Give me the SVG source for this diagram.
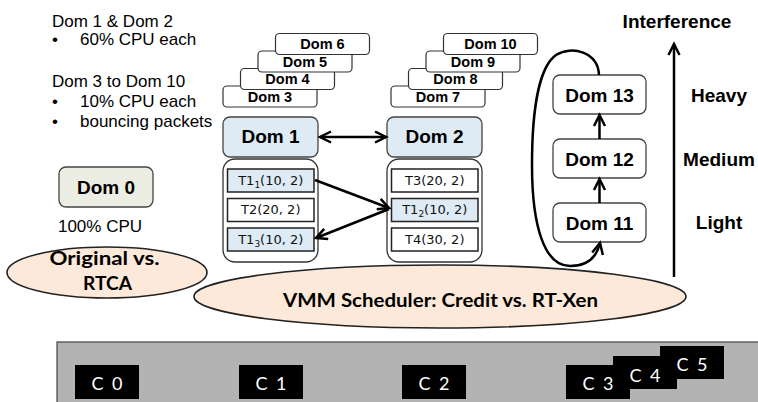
<svg xmlns="http://www.w3.org/2000/svg" width="758" height="402" viewBox="0 0 758 402">
<style>
.body{font-family:"Liberation Sans",Arial,sans-serif;font-size:17px;fill:#000}
.stk rect{fill:#fff;stroke:#333;stroke-width:1.2}
.stk text{font-family:"Liberation Sans",Arial,sans-serif;font-size:14.5px;font-weight:bold;text-anchor:middle}
.dom rect{stroke:#444;stroke-width:1.3}
.dom text{font-family:"Liberation Sans",Arial,sans-serif;font-size:19px;font-weight:bold;text-anchor:middle}
.blue{fill:#deebf5}
.cont{fill:#fff;stroke:#333;stroke-width:1.3}
.task{stroke:#222;stroke-width:1.5}
.ttxt{font-family:"DejaVu Sans",Verdana,sans-serif;font-size:13px;text-anchor:middle;fill:#111}
.ell{fill:#fde9d9;stroke:#222;stroke-width:1.6}
.etxt{font-family:Lato,"Open Sans",sans-serif;font-weight:bold;font-size:18px;text-anchor:middle}
.core rect{fill:#000}
.core text{font-family:Lato,"Open Sans",sans-serif;font-size:18px;fill:#fff;text-anchor:middle;letter-spacing:2px}
.lbl{font-family:"Liberation Sans",Arial,sans-serif;font-size:19px;font-weight:bold;text-anchor:middle}
.conn path,.conn line{fill:none;stroke:#000;stroke-width:2.5}
</style>
<defs>
<marker id="ah" markerUnits="userSpaceOnUse" markerWidth="16" markerHeight="16" refX="13" refY="7" orient="auto-start-reverse" viewBox="0 0 16 14">
<path d="M2,1.5 L13,7 L2,12.5" fill="none" stroke="#000" stroke-width="2.5"/>
</marker>
</defs>

<!-- left description -->
<g id="desc" class="body">
<text x="52" y="26.5">Dom 1 &amp; Dom 2</text>
<text x="52" y="45">•</text><text x="80" y="45">60% CPU each</text>
<text x="52" y="86.7">Dom 3 to Dom 10</text>
<text x="52" y="106.7">•</text><text x="80" y="106.7">10% CPU each</text>
<text x="52" y="126.7">•</text><text x="80" y="126.7">bouncing packets</text>
</g>

<!-- stacks -->
<g id="dom3" class="stk"><rect x="223" y="86" width="94" height="21" rx="4"/><text x="270" y="101.5">Dom 3</text></g>
<g id="dom4" class="stk"><rect x="240.5" y="68.5" width="94" height="21" rx="4"/><text x="287.5" y="84">Dom 4</text></g>
<g id="dom5" class="stk"><rect x="258" y="51" width="94" height="21" rx="4"/><text x="305" y="66.5">Dom 5</text></g>
<g id="dom6" class="stk"><rect x="275.5" y="33.5" width="94" height="21" rx="4"/><text x="322.5" y="49">Dom 6</text></g>
<g id="dom7" class="stk"><rect x="391" y="86" width="94" height="21" rx="4"/><text x="438" y="101.5">Dom 7</text></g>
<g id="dom8" class="stk"><rect x="408.5" y="68.5" width="94" height="21" rx="4"/><text x="455.5" y="84">Dom 8</text></g>
<g id="dom9" class="stk"><rect x="426" y="51" width="94" height="21" rx="4"/><text x="473" y="66.5">Dom 9</text></g>
<g id="dom10" class="stk"><rect x="443.5" y="33.5" width="94" height="21" rx="4"/><text x="490.5" y="49">Dom 10</text></g>

<!-- Dom 1 / Dom 2 -->
<g id="dom1" class="dom"><rect class="blue" x="223" y="117" width="95" height="40" rx="7"/><text x="270.5" y="143">Dom 1</text></g>
<g id="dom2" class="dom"><rect class="blue" x="387" y="117" width="95" height="40" rx="7"/><text x="434.5" y="143">Dom 2</text></g>

<g id="tasks1">
<rect class="cont" x="223" y="159" width="95" height="103" rx="12"/>
<rect class="task blue" x="227.5" y="169" width="86.5" height="23"/>
<text class="ttxt" x="270.75" y="184.5">T1<tspan font-size="9" dy="3">1</tspan><tspan dy="-3">(10, 2)</tspan></text>
<rect class="task" fill="#fff" x="227.5" y="198.5" width="86.5" height="23"/>
<text class="ttxt" x="270.75" y="214">T2(20, 2)</text>
<rect class="task blue" x="227.5" y="228" width="86.5" height="23"/>
<text class="ttxt" x="270.75" y="243.5">T1<tspan font-size="9" dy="3">3</tspan><tspan dy="-3">(10, 2)</tspan></text>
</g>
<g id="tasks2">
<rect class="cont" x="387" y="159" width="95" height="103" rx="12"/>
<rect class="task" fill="#fff" x="391.5" y="169" width="86.5" height="23"/>
<text class="ttxt" x="434.75" y="184.5">T3(20, 2)</text>
<rect class="task blue" x="391.5" y="198.5" width="86.5" height="23"/>
<text class="ttxt" x="434.75" y="214">T1<tspan font-size="9" dy="3">2</tspan><tspan dy="-3">(10, 2)</tspan></text>
<rect class="task" fill="#fff" x="391.5" y="228" width="86.5" height="23"/>
<text class="ttxt" x="434.75" y="243.5">T4(30, 2)</text>
</g>

<!-- Dom 0 -->
<g id="dom0" class="dom"><rect x="59" y="167" width="94" height="40" rx="7" fill="#eceee3"/><text x="106" y="194">Dom 0</text></g>
<text class="body" x="100" y="231.5" font-size="19" text-anchor="middle">100% CPU</text>

<!-- Dom 11-13 -->
<g id="dom13" class="dom"><rect x="553" y="75" width="93" height="39" rx="7" fill="#fff"/><text x="599.5" y="101.5">Dom 13</text></g>
<g id="dom12" class="dom"><rect x="553" y="139" width="93" height="39" rx="7" fill="#fff"/><text x="599.5" y="165.5">Dom 12</text></g>
<g id="dom11" class="dom"><rect x="553" y="203" width="93" height="39" rx="7" fill="#fff"/><text x="599.5" y="229.5">Dom 11</text></g>

<text class="lbl" x="677" y="28">Interference</text>
<text class="lbl" x="719" y="101.5">Heavy</text>
<text class="lbl" x="719" y="165.5">Medium</text>
<text class="lbl" x="719" y="229">Light</text>

<!-- ellipses -->
<g id="orig">
<ellipse class="ell" cx="107" cy="272.5" rx="100" ry="25.5"/>
<text class="etxt" x="104.5" y="265" textLength="110" lengthAdjust="spacingAndGlyphs">Original vs.</text>
<text class="etxt" x="107.5" y="290" textLength="49" lengthAdjust="spacingAndGlyphs">RTCA</text>
</g>
<g id="vmm">
<ellipse class="ell" cx="440" cy="296.5" rx="246" ry="31.5"/>
<text class="etxt" x="440.5" y="307" textLength="315" lengthAdjust="spacingAndGlyphs">VMM Scheduler: Credit vs. RT-Xen</text>
</g>

<!-- hardware -->
<rect x="57" y="342" width="720" height="80" fill="#b3b3b3" stroke="#444" stroke-width="1.2"/>
<g id="c0" class="core"><rect x="75" y="365" width="64" height="34"/><text x="108" y="390">C 0</text></g>
<g id="c1" class="core"><rect x="239" y="365" width="64" height="34"/><text x="272" y="390">C 1</text></g>
<g id="c2" class="core"><rect x="402" y="365" width="64" height="34"/><text x="435" y="390">C 2</text></g>
<g id="c5" class="core"><rect x="660" y="346" width="64" height="33"/><text x="693" y="371">C 5</text></g>
<g id="c4" class="core"><rect x="613" y="356" width="64" height="33"/><text x="646" y="381.5">C 4</text></g>
<g id="c3" class="core"><rect x="566" y="365" width="64" height="34"/><text x="599" y="390">C 3</text></g>

<!-- connectors -->
<g id="connectors" class="conn">
<line x1="320" y1="137" x2="386" y2="137" marker-start="url(#ah)" marker-end="url(#ah)"/>
<line x1="315" y1="180" x2="389" y2="208" marker-end="url(#ah)"/>
<line x1="389" y1="209" x2="316" y2="238" marker-end="url(#ah)"/>
<line x1="599.5" y1="203" x2="599.5" y2="179" marker-end="url(#ah)"/>
<line x1="599.5" y1="139" x2="599.5" y2="115" marker-end="url(#ah)"/>
<path d="M599,75 C598,52 572,45 556,55 C539,67 532,110 532,165 C532,228 545,266 570,266 C588,266 597,256 600,243" marker-end="url(#ah)"/>
<line x1="674" y1="277" x2="674" y2="44" marker-end="url(#ah)"/>
</g>
</svg>
